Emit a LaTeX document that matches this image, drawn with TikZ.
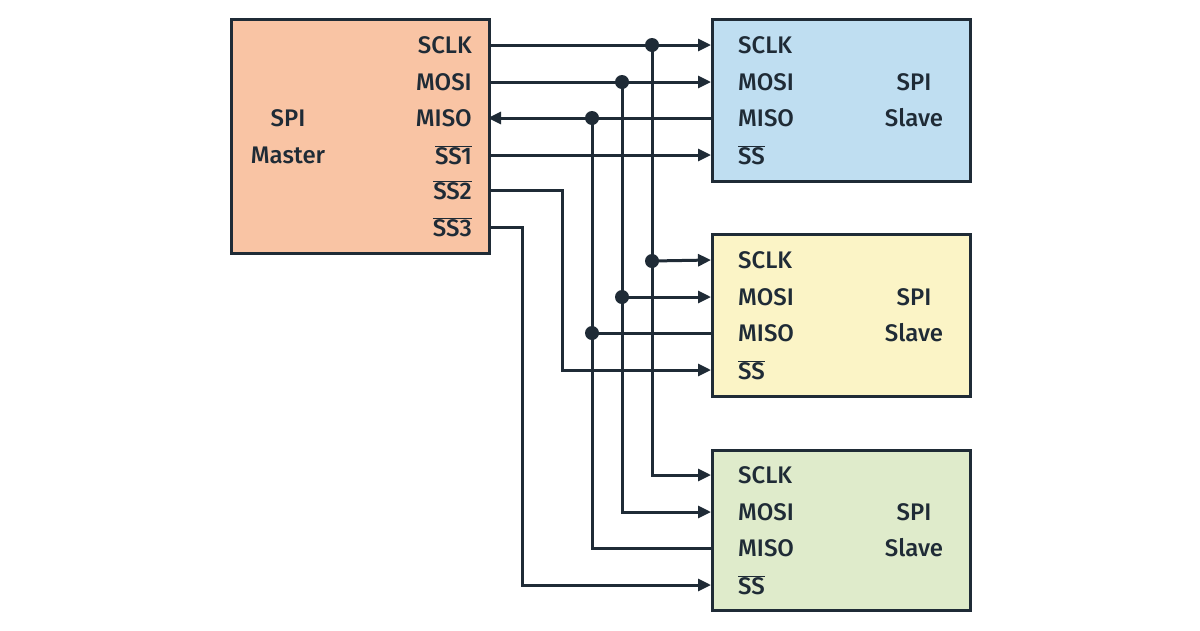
\documentclass[tikz,border=0pt]{standalone}
\usepackage{fontspec}
\setmainfont{Fira Sans Medium}
\usetikzlibrary{arrows.meta}
\definecolor{ink}{HTML}{1F2B36}
\definecolor{peach}{HTML}{F9C4A4}
\definecolor{sblue}{HTML}{BFDEF1}
\definecolor{syel}{HTML}{FBF4C6}
\definecolor{sgrn}{HTML}{DFEBCB}
\begin{document}
\begin{tikzpicture}[x=1pt,y=-1pt,
  box/.style={draw=ink,line width=3.2pt},
  lbl/.style={font=\fontsize{24}{27}\selectfont,text=ink,inner sep=0pt},
  w/.style={draw=ink,line width=3pt},
  a/.style={w,-{Triangle[length=13pt,width=12pt]}},
  dot/.style={fill=ink,circle,minimum size=14pt,inner sep=0pt}]
\useasboundingbox (0,0) rectangle (1200,630);
\fill[white] (0,0) rectangle (1200,630);
\node[box,fill=peach,minimum width=258pt,minimum height=234pt,anchor=north west] (m) at (230,18) {};
\node[box,fill=sblue,minimum width=258pt,minimum height=162pt,anchor=north west] (s1) at (711,18) {};
\node[box,fill=syel,minimum width=258pt,minimum height=162pt,anchor=north west] (s2) at (711,233) {};
\node[box,fill=sgrn,minimum width=258pt,minimum height=160pt,anchor=north west] (s3) at (711,449) {};
% master labels
\node[lbl] (mt1) at (288,118) {SPI};
\node[lbl] (mt2) at (288,155) {Master};
\foreach \t/\y/\n in {SCLK/45/ma,MOSI/82/mb,MISO/118/mc}
  \node[lbl,anchor=east] (\n) at (472,\y) {\t};
\node[lbl,anchor=east] (md) at (472,155) {$\overline{\mbox{SS1}}$};
\node[lbl,anchor=east] (me) at (472,190) {$\overline{\mbox{SS2}}$};
\node[lbl,anchor=east] (mf) at (472,227) {$\overline{\mbox{SS3}}$};
% slave labels
\foreach \o/\k in {0/1,215/2,430/3}{
  \node[lbl,anchor=west] (l\k a) at (738,45+\o) {SCLK};
  \node[lbl,anchor=west] (l\k b) at (738,82+\o) {MOSI};
  \node[lbl,anchor=west] (l\k c) at (738,118+\o) {MISO};
  \node[lbl,anchor=west] (l\k d) at (738,155+\o) {$\overline{\mbox{SS}}$};
  \node[lbl] (t\k a) at (914,82+\o) {SPI};
  \node[lbl] (t\k b) at (914,118+\o) {Slave};
}
% coordinates
\coordinate (mA) at (488,45); \coordinate (mB) at (488,82);
\coordinate (mC) at (488,118); \coordinate (mD) at (488,155);
\coordinate (mE) at (488,190); \coordinate (mF) at (488,227);
\foreach \o/\k in {0/1,215/2,430/3}{
  \coordinate (i\k a) at (711,45+\o); \coordinate (i\k b) at (711,82+\o);
  \coordinate (i\k c) at (711,118+\o); \coordinate (i\k d) at (711,155+\o);
}
\node[dot] (d1) at (652,45) {}; \node[dot] (d2) at (652,261) {};
\node[dot] (d3) at (622,82) {}; \node[dot] (d4) at (622,297) {};
\node[dot] (d5) at (592,118) {}; \node[dot] (d6) at (592,333) {};
% SCLK
\draw[a] (mA) -- (i1a);
\draw[a] (d1.center) |- (i3a);
\draw[a] (d2.center) -- (i2a);
% MOSI
\draw[a] (mB) -- (i1b);
\draw[a] (d3.center) |- (i3b);
\draw[a] (d4.center) -- (i2b);
% MISO
\draw[a] (i1c) -- (mC);
\draw[w] (d5.center) |- (i3c);
\draw[w] (d6.center) -- (i2c);
% SS
\draw[a] (mD) -- (i1d);
\draw[a] (mE) -- (562,190) |- (i2d);
\draw[a] (mF) -- (522,227) |- (i3d);
\end{tikzpicture}
\end{document}
